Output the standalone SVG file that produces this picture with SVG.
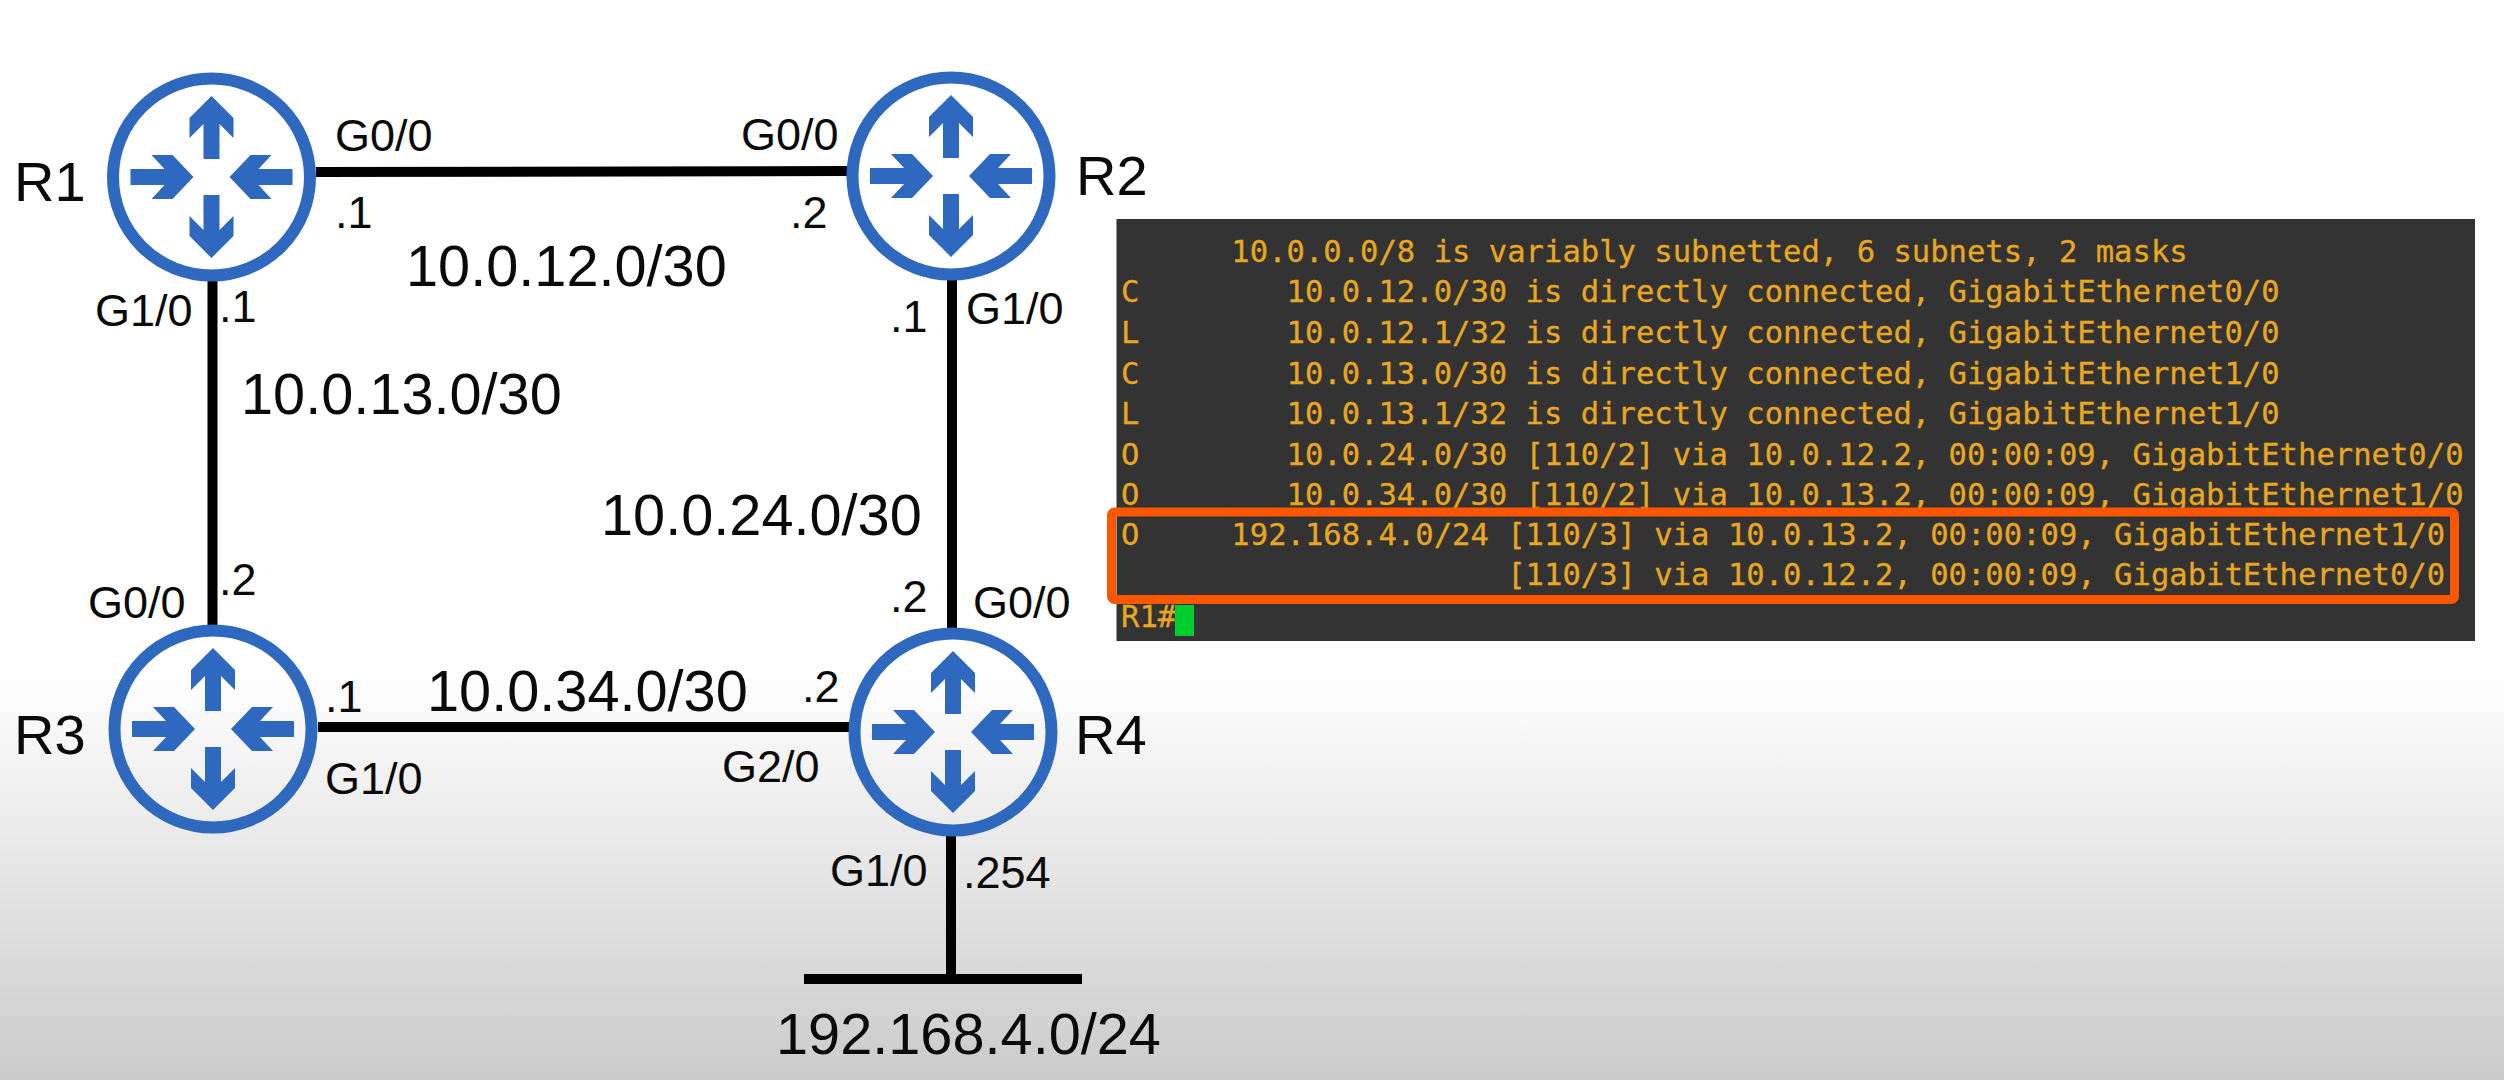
<svg xmlns="http://www.w3.org/2000/svg" width="2504" height="1080" viewBox="0 0 2504 1080">
<style>
.l{font-family:"Liberation Sans",Arial,sans-serif;font-size:45px;fill:#0a0a0a}
.b{font-size:57.700px}
.n{font-size:56px}
.t{font-family:"DejaVu Sans Mono",monospace;font-size:30.550px;fill:#e8a71f;stroke:#e8a71f;stroke-width:0.300px;white-space:pre}
.c{stroke:#000;stroke-width:10;fill:none}
</style>
<defs>
<linearGradient id="bg" x1="0" y1="0" x2="0" y2="1"><stop offset="0" stop-color="#fff"/><stop offset="0.62" stop-color="#fff"/><stop offset="1" stop-color="#cbcbcb"/></linearGradient>
<g id="router">
<circle r="98.5" fill="none" stroke="#2f68bf" stroke-width="12"/>
<g fill="#2f68bf">
<polygon points="0,-81 22,-59 22,-39 8,-53 8,-18 -8,-18 -8,-53 -22,-39 -22,-59"/>
<polygon points="0,81 22,59 22,39 8,53 8,18 -8,18 -8,53 -22,39 -22,59"/>
<polygon points="-18,0 -39,-22 -60,-22 -47,-8 -81,-8 -81,8 -47,8 -60,22 -39,22"/>
<polygon points="18,0 39,-22 60,-22 47,-8 81,-8 81,8 47,8 60,22 39,22"/>
</g>
</g>
</defs>
<rect id="background" width="2504" height="1080" fill="url(#bg)"/>
<g id="connectors">
<line class="c" x1="316" y1="172" x2="848" y2="171"/>
<line class="c" x1="212.500" y1="280" x2="212.500" y2="625"/>
<line class="c" x1="952" y1="280" x2="952" y2="628"/>
<line class="c" x1="318" y1="727" x2="849" y2="727"/>
<line class="c" x1="951" y1="836" x2="951" y2="979"/>
<line class="c" x1="804" y1="979" x2="1082" y2="979"/>
</g>
<g id="R1"><use href="#router" x="211.500" y="177"/><text class="l n" x="14" y="201">R1</text></g>
<g id="R2"><use href="#router" x="951" y="176"/><text class="l n" x="1076" y="195">R2</text></g>
<g id="R3"><use href="#router" x="213" y="729"/><text class="l n" x="14" y="754">R3</text></g>
<g id="R4"><use href="#router" x="953" y="732"/><text class="l n" x="1075" y="754">R4</text></g>
<g id="labels">
<text class="l" x="335" y="151">G0/0</text>
<text class="l" x="335" y="228">.1</text>
<text class="l" x="741" y="150">G0/0</text>
<text class="l" x="790" y="228">.2</text>
<text class="l b" x="406" y="286">10.0.12.0/30</text>
<text class="l" x="95" y="326">G1/0</text>
<text class="l" x="219" y="322">.1</text>
<text class="l b" x="241" y="414">10.0.13.0/30</text>
<text class="l" x="890" y="332">.1</text>
<text class="l" x="966" y="324">G1/0</text>
<text class="l b" x="601" y="535">10.0.24.0/30</text>
<text class="l" x="88" y="618">G0/0</text>
<text class="l" x="219" y="595">.2</text>
<text class="l" x="890" y="612">.2</text>
<text class="l" x="973" y="618">G0/0</text>
<text class="l" x="325" y="712">.1</text>
<text class="l" x="325" y="794">G1/0</text>
<text class="l b" x="427" y="711">10.0.34.0/30</text>
<text class="l" x="802" y="702">.2</text>
<text class="l" x="722" y="782">G2/0</text>
<text class="l" x="830" y="886">G1/0</text>
<text class="l" x="963" y="888">.254</text>
<text class="l b" x="776" y="1054">192.168.4.0/24</text>
</g>
<g id="terminal">
<rect x="1116.500" y="219" width="1358.500" height="422" fill="#333333"/>
<text class="t" x="1121" y="262">      10.0.0.0/8 is variably subnetted, 6 subnets, 2 masks</text>
<text class="t" x="1121" y="302">C        10.0.12.0/30 is directly connected, GigabitEthernet0/0</text>
<text class="t" x="1121" y="343">L        10.0.12.1/32 is directly connected, GigabitEthernet0/0</text>
<text class="t" x="1121" y="384">C        10.0.13.0/30 is directly connected, GigabitEthernet1/0</text>
<text class="t" x="1121" y="424">L        10.0.13.1/32 is directly connected, GigabitEthernet1/0</text>
<text class="t" x="1121" y="465">O        10.0.24.0/30 [110/2] via 10.0.12.2, 00:00:09, GigabitEthernet0/0</text>
<text class="t" x="1121" y="505">O        10.0.34.0/30 [110/2] via 10.0.13.2, 00:00:09, GigabitEthernet1/0</text>
<text class="t" x="1121" y="545">O     192.168.4.0/24 [110/3] via 10.0.13.2, 00:00:09, GigabitEthernet1/0</text>
<text class="t" x="1121" y="585">                     [110/3] via 10.0.12.2, 00:00:09, GigabitEthernet0/0</text>
<text class="t" x="1121" y="627">R1#</text>
<rect x="1175" y="605" width="19" height="31" fill="#00cf2f"/>
<rect x="1111.500" y="512" width="1343" height="87.500" rx="3" fill="none" stroke="#fb5700" stroke-width="9"/>
</g>
</svg>
